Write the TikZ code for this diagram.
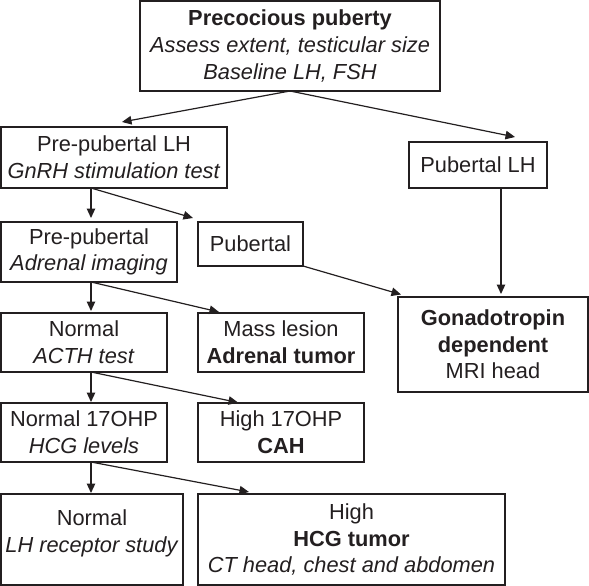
\documentclass[tikz,border=0pt]{standalone}
\usepackage{fontspec}
\setmainfont{Liberation Sans}
\usetikzlibrary{arrows.meta,calc}
\definecolor{ink}{HTML}{231F20}
\begin{document}
\begin{tikzpicture}[x=1pt,y=-1pt,
  box/.style={draw=ink, line width=1.2pt, inner sep=0pt, outer sep=0pt, align=center,
    text=ink, font=\fontsize{21.8}{26.7}\selectfont},
  arr/.style={draw=ink, line width=1.2pt, -{Triangle[length=9.5pt,width=8.5pt]}}]
\useasboundingbox (0,0) rectangle (589,586);
\fill[white] (0,0) rectangle (589,586);
\node[box, minimum width=300pt, minimum height=90pt] (top) at (290,46)
  {\textbf{Precocious puberty}\\ \textit{Assess extent, testicular size}\\ \textit{Baseline LH, FSH}};
\node[box, minimum width=226pt, minimum height=61pt] (prelh) at (114,157.5)
  {Pre-pubertal LH\\ \textit{GnRH stimulation test}};
\node[box, minimum width=138pt, minimum height=46pt] (publh) at (478,165) {Pubertal LH};
\node[box, minimum width=176pt, minimum height=60pt] (prep) at (89,252)
  {Pre-pubertal\\ \textit{Adrenal imaging}};
\node[box, minimum width=105pt, minimum height=44pt] (pub) at (250.5,244) {Pubertal};
\node[box, minimum width=190pt, minimum height=95pt] (gonad) at (493,344.5)
  {\textbf{Gonadotropin}\\ \textbf{dependent}\\ MRI head};
\node[box, minimum width=166pt, minimum height=59pt] (normal) at (84,342.5)
  {Normal\\ \textit{ACTH test}};
\node[box, minimum width=166pt, minimum height=59pt] (mass) at (281,342.5)
  {Mass lesion\\ \textbf{Adrenal tumor}};
\node[box, minimum width=166pt, minimum height=59pt] (n17) at (84,432.5)
  {Normal 17OHP\\ \textit{HCG levels}};
\node[box, minimum width=166pt, minimum height=59pt] (h17) at (281,432.5)
  {High 17OHP\\ \textbf{CAH}};
\node[box, minimum width=182pt, minimum height=91pt, text depth=17.5pt] (nlh) at (92,539.5)
  {Normal\\ \textit{LH receptor study}};
\node[box, minimum width=307pt, minimum height=91pt] (hhcg) at (351.5,539.5)
  {High\\ \textbf{HCG tumor}\\ \textit{CT head, chest and abdomen}};
% connectors
\draw[arr] (top.south) -- ($(prelh.north west)+(121,-5)$);
\draw[arr] (top.south) -- ($(publh.north west)+(106,-5)$);
\draw[arr] ($(prelh.south west)+(90,0)$) -- ($(prep.north west)+(90,-4)$);
\draw[arr] ($(prelh.south west)+(90,0)$) -- ($(pub.north west)+(-5,-4)$);
\draw[arr] (pub.south east) -- ($(gonad.north west)+(3,-2.5)$);
\draw[arr] ($(publh.south west)+(92,0)$) -- ($(gonad.north west)+(103,-3)$);
\draw[arr] ($(prep.south west)+(90,0)$) -- ($(normal.north west)+(90,-2)$);
\draw[arr] ($(prep.south west)+(90,0)$) -- ($(mass.north west)+(21,-1)$);
\draw[arr] ($(normal.south west)+(90,0)$) -- ($(n17.north west)+(90,-1)$);
\draw[arr] ($(normal.south west)+(90,0)$) -- ($(h17.north west)+(40,-0.5)$);
\draw[arr] ($(n17.south west)+(90,0)$) -- ($(nlh.north west)+(90,-1)$);
\draw[arr] ($(n17.south west)+(90,0)$) -- ($(hhcg.north west)+(51,-2)$);
\end{tikzpicture}
\end{document}
